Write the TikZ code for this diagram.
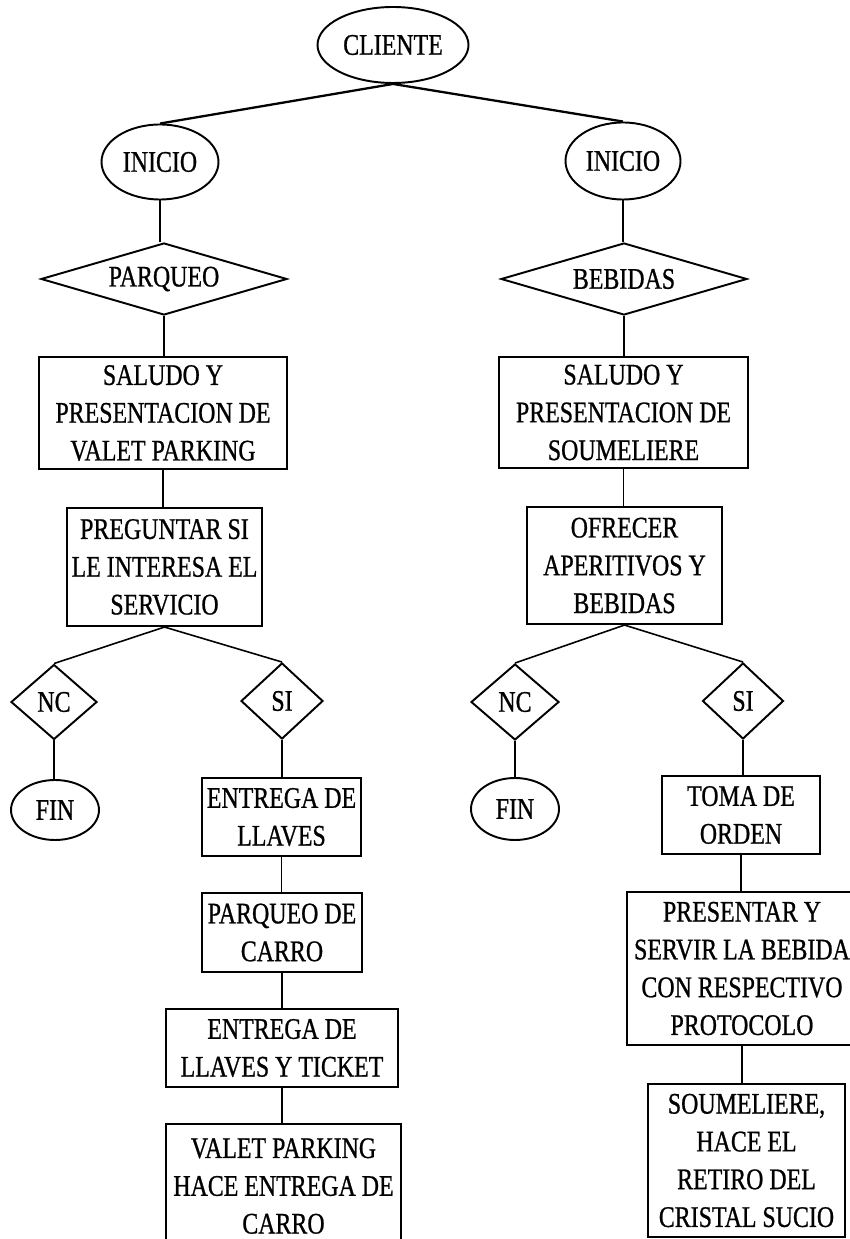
\documentclass[tikz,border=0pt]{standalone}
\usepackage{fontspec}
\setmainfont{Liberation Serif}[FakeStretch=0.8, FakeBold=0.8]
\usetikzlibrary{shapes.geometric}
\newcommand{\pxu}{0.02cm}
\begin{document}
\begin{tikzpicture}[x=0.02cm, y=-0.02cm,
  txt/.style={font=\fontsize{17}{21.5}\selectfont, align=center, inner sep=0pt},
  stepbox/.style={txt, draw, rectangle, line width=1.2pt},
  oval/.style={txt, draw, ellipse, line width=1.1pt},
  decision/.style={txt, draw, diamond, line width=1.1pt},
  link/.style={line width=0.9pt},
  toplink/.style={line width=1.3pt}]
\useasboundingbox (0,0) rectangle (849,1239);

% root
\node[oval, minimum width=151*\pxu, minimum height=76*\pxu] (cli) at (393,45) {CLIENTE};

% left branch: parking
\node[oval, minimum width=117*\pxu, minimum height=75*\pxu] (ini1) at (160,162) {INICIO};
\node[decision, shape aspect=3.4, minimum width=246*\pxu, minimum height=72*\pxu] (parq) at (164,279) {PARQUEO};
\node[stepbox, minimum width=248*\pxu, minimum height=112*\pxu] (sal1) at (163,413) {SALUDO Y\\PRESENTACION DE\\VALET PARKING};
\node[stepbox, minimum width=195*\pxu, minimum height=118*\pxu] (preg) at (164.5,567) {PREGUNTAR SI\\LE INTERESA EL\\SERVICIO};
\node[decision, shape aspect=1.15, minimum width=86*\pxu, minimum height=75*\pxu] (nc1) at (54,702) {NC};
\node[decision, shape aspect=1.1, minimum width=82*\pxu, minimum height=76*\pxu] (si1) at (282,701) {SI};
\node[oval, minimum width=88*\pxu, minimum height=60*\pxu] (fin1) at (55,810) {FIN};
\node[stepbox, minimum width=159*\pxu, minimum height=78*\pxu] (ent1) at (281.5,817) {ENTREGA DE\\LLAVES};
\node[stepbox, minimum width=160*\pxu, minimum height=79*\pxu] (parq2) at (282,932.5) {PARQUEO DE\\CARRO};
\node[stepbox, minimum width=232*\pxu, minimum height=78*\pxu] (ent2) at (282,1048) {ENTREGA DE\\LLAVES Y TICKET};
\node[stepbox, minimum width=235*\pxu, minimum height=124*\pxu] (valet) at (283.5,1186) {VALET PARKING\\HACE ENTREGA DE\\CARRO};

% right branch: drinks
\node[oval, minimum width=115*\pxu, minimum height=77*\pxu] (ini2) at (623,161) {INICIO};
\node[decision, shape aspect=3.4, minimum width=246*\pxu, minimum height=72*\pxu] (beb) at (624,279) {BEBIDAS};
\node[stepbox, minimum width=249*\pxu, minimum height=111*\pxu] (sal2) at (623.5,412.5) {SALUDO Y\\PRESENTACION DE\\SOUMELIERE};
\node[stepbox, minimum width=195*\pxu, minimum height=117*\pxu] (ofre) at (624.5,565.5) {OFRECER\\APERITIVOS Y\\BEBIDAS};
\node[decision, shape aspect=1.15, minimum width=88*\pxu, minimum height=76*\pxu] (nc2) at (515,702) {NC};
\node[decision, shape aspect=1.1, minimum width=81*\pxu, minimum height=76*\pxu] (si2) at (743,701) {SI};
\node[oval, minimum width=88*\pxu, minimum height=62*\pxu] (fin2) at (515,809) {FIN};
\node[stepbox, minimum width=158*\pxu, minimum height=78*\pxu] (toma) at (741,815) {TOMA DE\\ORDEN};
\node[stepbox, minimum width=230*\pxu, minimum height=153*\pxu] (pres) at (742,968.5) {PRESENTAR Y\\SERVIR LA BEBIDA\\CON RESPECTIVO\\PROTOCOLO};
\node[stepbox, minimum width=197*\pxu, minimum height=153*\pxu] (soum) at (746.5,1160.5) {SOUMELIERE,\\HACE EL\\RETIRO DEL\\CRISTAL SUCIO};

% connectors
\draw[toplink] (ini1.north) -- (cli.south) -- (ini2.north);

\draw[link] (ini1.south) -- (ini1.south |- parq.north);
\draw[link] (parq.south) -- (parq.south |- sal1.north);
\draw[link] (sal1.south) -- (sal1.south |- preg.north);
\draw[link] (nc1.north) -- (preg.south) -- (si1.north);
\draw[link] (nc1.south) -- (nc1.south |- fin1.north);
\draw[link] (si1.south) -- (si1.south |- ent1.north);
\draw[link] (ent1.south) -- (ent1.south |- parq2.north);
\draw[link] (parq2.south) -- (parq2.south |- ent2.north);
\draw[link] (ent2.south) -- (ent2.south |- valet.north);

\draw[link] (ini2.south) -- (ini2.south |- beb.north);
\draw[link] (beb.south) -- (beb.south |- sal2.north);
\draw[link] (sal2.south) -- (sal2.south |- ofre.north);
\draw[link] (nc2.north) -- (ofre.south) -- (si2.north);
\draw[link] (nc2.south) -- (nc2.south |- fin2.north);
\draw[link] (si2.south) -- (si2.south |- toma.north);
\draw[link] (toma.south) -- (toma.south |- pres.north);
\draw[link] (pres.south) -- (pres.south |- soum.north);
\end{tikzpicture}
\end{document}
